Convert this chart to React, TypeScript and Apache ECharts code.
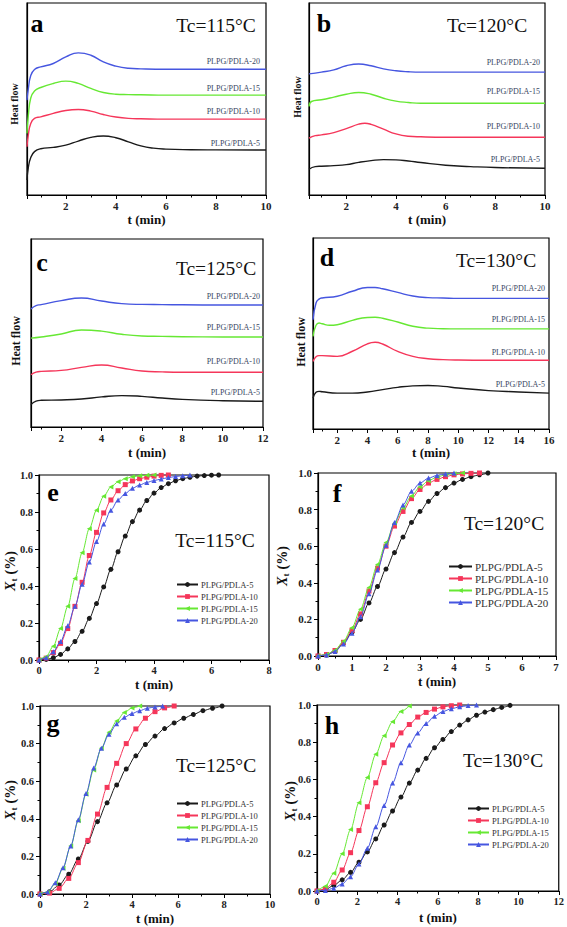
import React, { useEffect, useRef } from "react";
import * as echarts from "echarts";

const NAMES = ["PLPG/PDLA-5", "PLPG/PDLA-10", "PLPG/PDLA-15", "PLPG/PDLA-20"];
const COLORS = ["#1a1a1a", "#f5365a", "#66e833", "#4656e0"];
const SYMBOLS = ["circle", "rect", "triangle", "triangle"];
const ROTATES = [0, 0, 90, 0];
const FONT = "Liberation Serif";

// ---- Heat flow (arbitrary units, 0 = bottom of frame, 100 = top) ----
const aT5 = [0.45, 0.5, 0.6, 0.75, 1, 1.5, 2, 2.5, 3, 3.5, 4, 4.5, 5, 5.5, 6, 7, 8, 10];
const aV5 = [7.8, 14, 19.5, 22.6, 24.1, 24.8, 26.0, 28.1, 30.0, 30.7, 29.8, 27.7, 25.6, 24.4, 23.9, 23.6, 23.5, 23.4];
const aT10 = [0.45, 0.5, 0.6, 0.75, 1, 1.5, 2, 2.5, 3, 3.5, 4, 4.5, 5, 6, 8, 10];
const aV10 = [25.1, 31, 37.2, 39.9, 40.7, 42.5, 44.0, 44.5, 43.7, 41.9, 40.6, 39.9, 39.7, 39.5, 39.5, 39.5];
const aT15 = [0.45, 0.5, 0.6, 0.75, 1, 1.5, 2, 2.5, 3, 3.5, 4, 4.5, 5, 6, 8, 10];
const aV15 = [32.1, 41, 50.5, 54.2, 56.0, 58.1, 59.3, 58.1, 55.5, 53.4, 52.5, 52.3, 52.2, 52.0, 52.0, 52.0];
const aT20 = [0.45, 0.5, 0.6, 0.75, 1, 1.5, 2, 2.5, 3, 3.5, 4, 4.5, 5, 6, 8, 10];
const aV20 = [49.4, 55, 62.2, 65.4, 66.7, 68.5, 71.9, 74.0, 72.8, 69.3, 67.1, 66.0, 65.7, 65.5, 65.5, 65.5];

const bT5 = [0.5, 0.75, 1, 1.5, 2, 2.5, 3, 3.5, 4, 4.5, 5, 6, 7, 8, 10];
const bV5 = [13.4, 14.8, 15.0, 15.3, 15.8, 17.0, 17.9, 18.4, 18.3, 17.7, 16.9, 15.5, 14.8, 14.3, 13.9];
const bT10 = [0.5, 0.75, 1, 1.5, 2, 2.5, 2.75, 3, 3.5, 4, 4.5, 5, 6, 8, 10];
const bV10 = [29.6, 30.9, 31.3, 32.5, 34.6, 36.9, 37.4, 36.8, 34.3, 31.8, 30.6, 30.3, 30.1, 30.1, 30.1];
const bT15 = [0.5, 0.6, 1, 1.5, 2, 2.5, 3, 3.5, 4, 4.5, 5, 6, 8, 10];
const bV15 = [46.1, 48.7, 49.6, 51.0, 52.5, 53.4, 52.5, 50.4, 48.9, 48.2, 47.8, 47.8, 47.8, 47.8];
const bT20 = [0.5, 1, 1.5, 2, 2.5, 3, 3.5, 4, 4.5, 5, 6, 8, 10];
const bV20 = [63.1, 64.0, 65.2, 67.3, 68.2, 67.3, 65.7, 64.7, 64.2, 64.0, 64.0, 64.0, 64.0];

const cT5 = [0.5, 0.75, 1, 2, 3, 4, 5, 6, 7, 8, 10, 12];
const cV5 = [11.9, 13.8, 14.2, 14.4, 14.9, 16.0, 16.7, 16.3, 15.4, 14.7, 14.0, 13.7];
const cT10 = [0.5, 0.75, 1, 2, 3, 4, 5, 6, 7, 8, 10, 12];
const cV10 = [27.8, 29.2, 29.6, 30.1, 31.7, 33.0, 31.4, 29.8, 29.3, 29.1, 29.1, 29.1];
const cT15 = [0.5, 1, 2, 3, 4, 5, 6, 7, 8, 10, 12];
const cV15 = [47.3, 47.9, 49.5, 51.6, 51.0, 49.3, 48.4, 48.2, 48.0, 47.9, 47.9];
const cT20 = [0.5, 0.75, 1, 2, 3, 4, 5, 6, 7, 8, 10, 12];
const cV20 = [62.8, 64.6, 65.1, 67.2, 68.6, 67.0, 65.6, 65.2, 65.1, 65.0, 64.9, 64.9];

const dT5 = [0.4, 0.6, 0.8, 1, 2, 3, 4, 5, 6, 7, 8, 9, 10, 12, 14, 16];
const dV5 = [16.2, 19.2, 19.7, 19.5, 18.8, 18.8, 19.4, 20.6, 21.8, 22.6, 22.8, 22.3, 21.5, 20.1, 19.4, 18.8];
const dT10 = [0.4, 0.6, 0.8, 1, 2, 3, 4, 4.5, 5, 6, 7, 8, 9, 10, 12, 16];
const dV10 = [35.4, 37.8, 38.4, 38.4, 38.0, 40.7, 44.6, 45.4, 44.5, 40.6, 38.0, 36.8, 36.3, 36.1, 36.0, 36.0];
const dT15 = [0.4, 0.6, 0.8, 1, 1.5, 2, 3, 4, 4.5, 5, 6, 7, 8, 9, 10, 16];
const dV15 = [48.5, 54.3, 55.5, 55.1, 54.3, 54.6, 56.9, 58.4, 58.5, 58.0, 56.0, 53.8, 52.8, 52.5, 52.4, 52.4];
const dT20 = [0.4, 0.6, 0.8, 1, 2, 3, 4, 4.5, 5, 6, 7, 8, 9, 10, 16];
const dV20 = [57.2, 66.0, 68.0, 68.6, 69.5, 72.1, 74.1, 74.1, 73.4, 71.5, 69.6, 68.8, 68.6, 68.4, 68.4];

// ---- Relative crystallinity Xt ----
const eT5 = [0, 0.25, 0.5, 0.75, 1, 1.25, 1.5, 1.75, 2, 2.25, 2.5, 2.75, 3, 3.25, 3.5, 3.75, 4, 4.25, 4.5, 4.75, 5, 5.25, 5.5, 5.75, 6, 6.25];
const eX5 = [0, 0.003, 0.012, 0.03, 0.06, 0.1, 0.155, 0.225, 0.305, 0.395, 0.49, 0.585, 0.67, 0.748, 0.81, 0.862, 0.902, 0.932, 0.953, 0.969, 0.98, 0.988, 0.994, 0.997, 0.999, 1.0];
const eT10 = [0, 0.25, 0.5, 0.75, 1, 1.25, 1.5, 1.75, 2, 2.25, 2.5, 2.75, 3, 3.25, 3.5, 3.75, 4, 4.25, 4.5];
const eX10 = [0, 0.01, 0.04, 0.09, 0.17, 0.29, 0.42, 0.565, 0.69, 0.795, 0.865, 0.915, 0.948, 0.968, 0.98, 0.988, 0.994, 0.998, 1.0];
const eT15 = [0, 0.25, 0.5, 0.75, 1, 1.25, 1.5, 1.75, 2, 2.25, 2.5, 2.75, 3, 3.25, 3.5, 3.75, 4];
const eX15 = [0, 0.018, 0.075, 0.17, 0.29, 0.44, 0.58, 0.71, 0.81, 0.885, 0.935, 0.963, 0.98, 0.99, 0.996, 0.998, 1.0];
const eT20 = [0, 0.25, 0.5, 0.75, 1, 1.25, 1.5, 1.75, 2, 2.25, 2.5, 2.75, 3, 3.25, 3.5, 3.75, 4, 4.25, 4.5, 4.75, 5, 5.25];
const eX20 = [0, 0.012, 0.045, 0.1, 0.185, 0.29, 0.41, 0.53, 0.64, 0.735, 0.81, 0.865, 0.9, 0.928, 0.946, 0.96, 0.97, 0.978, 0.986, 0.992, 0.996, 1.0];

const fT5 = [0, 0.25, 0.5, 0.75, 1, 1.25, 1.5, 1.75, 2, 2.25, 2.5, 2.75, 3, 3.25, 3.5, 3.75, 4, 4.25, 4.5, 4.75, 5];
const fX5 = [0, 0.005, 0.025, 0.07, 0.13, 0.2, 0.29, 0.38, 0.475, 0.565, 0.65, 0.73, 0.79, 0.845, 0.888, 0.92, 0.945, 0.965, 0.98, 0.99, 1.0];
const fT10 = [0, 0.25, 0.5, 0.75, 1, 1.25, 1.5, 1.75, 2, 2.25, 2.5, 2.75, 3, 3.25, 3.5, 3.75, 4, 4.25, 4.5, 4.75];
const fX10 = [0, 0.008, 0.03, 0.075, 0.14, 0.23, 0.355, 0.48, 0.6, 0.71, 0.79, 0.86, 0.91, 0.945, 0.965, 0.98, 0.99, 0.995, 0.998, 1.0];
const fT15 = [0, 0.25, 0.5, 0.75, 1, 1.25, 1.5, 1.75, 2, 2.25, 2.5, 2.75, 3, 3.25, 3.5, 3.75, 4, 4.25];
const fX15 = [0, 0.008, 0.032, 0.08, 0.155, 0.255, 0.375, 0.5, 0.62, 0.725, 0.81, 0.875, 0.925, 0.958, 0.978, 0.99, 0.996, 1.0];
const fT20 = [0, 0.25, 0.5, 0.75, 1, 1.25, 1.5, 1.75, 2, 2.25, 2.5, 2.75, 3, 3.25, 3.5, 3.75, 4];
const fX20 = [0, 0.005, 0.025, 0.065, 0.125, 0.215, 0.34, 0.47, 0.605, 0.73, 0.825, 0.9, 0.945, 0.972, 0.987, 0.995, 1.0];

const gT5 = [0, 0.417, 0.833, 1.25, 1.667, 2.083, 2.5, 2.917, 3.333, 3.75, 4.167, 4.583, 5, 5.417, 5.833, 6.25, 6.667, 7.083, 7.5, 7.917];
const gX5 = [0, 0.012, 0.048, 0.105, 0.186, 0.28, 0.385, 0.485, 0.58, 0.665, 0.735, 0.795, 0.84, 0.88, 0.91, 0.935, 0.955, 0.975, 0.988, 1.0];
const gT10 = [0, 0.417, 0.833, 1.25, 1.667, 2.083, 2.5, 2.917, 3.333, 3.75, 4.167, 4.583, 5, 5.417, 5.833];
const gX10 = [0, 0.005, 0.03, 0.083, 0.167, 0.285, 0.425, 0.567, 0.695, 0.8, 0.878, 0.935, 0.97, 0.99, 1.0];
const gT15 = [0, 0.333, 0.667, 1, 1.333, 1.667, 2, 2.333, 2.667, 3, 3.333, 3.667, 4, 4.333];
const gX15 = [0, 0.01, 0.055, 0.137, 0.255, 0.39, 0.53, 0.66, 0.775, 0.86, 0.92, 0.965, 0.99, 1.0];
const gT20 = [0, 0.333, 0.667, 1, 1.333, 1.667, 2, 2.333, 2.667, 3, 3.333, 3.667, 4, 4.333, 4.667, 5, 5.333];
const gX20 = [0, 0.01, 0.06, 0.14, 0.255, 0.395, 0.535, 0.67, 0.775, 0.85, 0.905, 0.94, 0.96, 0.975, 0.988, 0.995, 1.0];

const hT5 = [0, 0.417, 0.833, 1.25, 1.667, 2.083, 2.5, 2.917, 3.333, 3.75, 4.167, 4.583, 5, 5.417, 5.833, 6.25, 6.667, 7.083, 7.5, 7.917, 8.333, 8.75, 9.167, 9.583];
const hX5 = [0, 0.008, 0.03, 0.06, 0.1, 0.155, 0.21, 0.28, 0.355, 0.43, 0.505, 0.58, 0.65, 0.713, 0.77, 0.815, 0.857, 0.892, 0.92, 0.945, 0.962, 0.975, 0.987, 0.998];
const hT10 = [0, 0.417, 0.833, 1.25, 1.667, 2.083, 2.5, 2.917, 3.333, 3.75, 4.167, 4.583, 5, 5.417, 5.833, 6.25, 6.667, 7.083];
const hX10 = [0, 0.012, 0.047, 0.113, 0.206, 0.325, 0.453, 0.582, 0.69, 0.785, 0.85, 0.895, 0.935, 0.96, 0.978, 0.99, 0.996, 1.0];
const hT15 = [0, 0.417, 0.833, 1.25, 1.667, 2.083, 2.5, 2.917, 3.333, 3.75, 4.167, 4.583];
const hX15 = [0, 0.025, 0.095, 0.2, 0.33, 0.475, 0.61, 0.735, 0.835, 0.91, 0.965, 0.995];
const hT20 = [0, 0.417, 0.833, 1.25, 1.667, 2.083, 2.5, 2.917, 3.333, 3.75, 4.167, 4.583, 5, 5.417, 5.833, 6.25, 6.667, 7.083, 7.5, 7.917];
const hX20 = [0, 0.003, 0.015, 0.038, 0.077, 0.145, 0.23, 0.345, 0.46, 0.58, 0.69, 0.785, 0.85, 0.9, 0.94, 0.965, 0.98, 0.99, 0.997, 1.0];

const TC_LABELS = ["Tc=115°C", "Tc=120°C", "Tc=125°C", "Tc=130°C", "Tc=115°C", "Tc=120°C", "Tc=125°C", "Tc=130°C"];
const LETTERS = ["a", "b", "c", "d", "e", "f", "g", "h"];

// ---- layout (pixels) ----
const GRIDS = [
  { l: 27, t: 3, w: 239, h: 192 },
  { l: 309, t: 3, w: 236, h: 192 },
  { l: 31, t: 239, w: 232, h: 188 },
  { l: 313, t: 238, w: 236, h: 191 },
  { l: 39, t: 475, w: 230, h: 185 },
  { l: 318, t: 473, w: 238, h: 183 },
  { l: 40, t: 706, w: 230, h: 188 },
  { l: 317, t: 705, w: 243, h: 186 },
];
const X_AXES = [
  { min: 0.45, max: 10, split: 5 },
  { min: 0.5, max: 10, split: 5 },
  { min: 0.5, max: 12, split: 6 },
  { min: 0.4, max: 16, split: 8 },
  { min: 0, max: 8, interval: 2 },
  { min: 0, max: 7, interval: 1 },
  { min: 0, max: 10, interval: 2 },
  { min: 0, max: 12, interval: 2 },
];
const XNAME_GAP = [18, 18, 19, 16, 18, 19, 18, 20];
const HF_NAME = [
  { x: 14, y: 104, size: 10 },
  { x: 297, y: 97, size: 10 },
  { x: 16, y: 341, size: 12 },
  { x: 301, y: 342, size: 12 },
];
const XT_NAME = [
  { x: 10, y: 572 },
  { x: 282, y: 567 },
  { x: 10, y: 801 },
  { x: 290, y: 802 },
];
const LETTER_POS = [[37, 23], [324, 23], [42, 262], [327, 257], [53, 492], [337, 493], [53, 723], [332, 725]];
const TC_POS = [[216, 25], [487, 25], [216, 268], [496, 260], [215, 540], [504, 523], [216, 765], [503, 760]];
const HF_LABEL_X = [260, 540, 260, 545];
const HF_LABEL_Y = [
  [143, 111, 88, 61],
  [159, 126, 91, 62],
  [392, 361, 327, 296],
  [384, 352, 319, 288],
];
const LEGENDS = [
  { left: 176, top: 580, font: 8.5, gap: 3, w: 21 },
  { left: 448, top: 561, font: 11, gap: 1, w: 23 },
  { left: 176, top: 799, font: 8.5, gap: 3, w: 21 },
  { left: 467, top: 804, font: 8.5, gap: 3, w: 21 },
];

const HF_DATA = [
  [[aT5, aV5], [aT10, aV10], [aT15, aV15], [aT20, aV20]],
  [[bT5, bV5], [bT10, bV10], [bT15, bV15], [bT20, bV20]],
  [[cT5, cV5], [cT10, cV10], [cT15, cV15], [cT20, cV20]],
  [[dT5, dV5], [dT10, dV10], [dT15, dV15], [dT20, dV20]],
];
const XT_DATA = [
  [[eT5, eX5], [eT10, eX10], [eT15, eX15], [eT20, eX20]],
  [[fT5, fX5], [fT10, fX10], [fT15, fX15], [fT20, fX20]],
  [[gT5, gX5], [gT10, gX10], [gT15, gX15], [gT20, gX20]],
  [[hT5, hX5], [hT10, hX10], [hT15, hX15], [hT20, hX20]],
];

const zip = (a: number[], b: number[]) => a.map((v, i) => [v, b[i]]);

function txt(text: string, x: number, y: number, size: number, opts: any = {}) {
  const align = opts.align || "center";
  const valign = opts.valign || "middle";
  return {
    type: "text",
    x,
    y,
    silent: true,
    style: {
      text,
      fill: opts.fill || "#111",
      fontFamily: FONT,
      fontSize: size,
      fontWeight: opts.bold ? "bold" : "normal",
      fontStyle: opts.italic ? "italic" : "normal",
      align,
      verticalAlign: valign,
      textAlign: align,
      textVerticalAlign: valign,
    },
  };
}

function buildOption() {
  const grid = GRIDS.map((g) => ({
    left: g.l,
    top: g.t,
    width: g.w,
    height: g.h,
    show: true,
    borderColor: "#000",
    borderWidth: 1.2,
    backgroundColor: "transparent",
  }));

  const xAxis = X_AXES.map((a, i) => ({
    type: "value",
    gridIndex: i,
    min: a.min,
    max: a.max,
    ...(a.interval ? { interval: a.interval } : { splitNumber: a.split }),
    axisLine: { show: true, onZero: false, lineStyle: { color: "#000", width: 1.2 } },
    axisTick: { show: true, length: 4, lineStyle: { color: "#000", width: 1 } },
    minorTick: { show: true, splitNumber: 2, length: 2.5, lineStyle: { color: "#000", width: 1 } },
    splitLine: { show: false },
    axisLabel: {
      showMinLabel: i >= 4,
      fontFamily: FONT,
      fontSize: i <= 5 && i !== 4 ? 11 : 10.5,
      fontWeight: "bold",
      color: "#222",
      margin: 5,
    },
    name: "t (min)",
    nameLocation: "middle",
    nameGap: XNAME_GAP[i],
    nameTextStyle: { fontFamily: FONT, fontSize: 13, fontWeight: "bold", color: "#111" },
  }));

  const yAxis: any[] = [];
  for (let i = 0; i < 8; i++) {
    if (i < 4) {
      yAxis.push({
        type: "value",
        gridIndex: i,
        min: 0,
        max: 100,
        axisLine: { show: true, onZero: false, lineStyle: { color: "#000", width: 1.2 } },
        axisTick: { show: false },
        axisLabel: { show: false },
        splitLine: { show: false },
      });
    } else {
      const big = i === 5;
      yAxis.push({
        type: "value",
        gridIndex: i,
        min: 0,
        max: 1,
        interval: 0.2,
        axisLine: { show: true, onZero: false, lineStyle: { color: "#000", width: 1.2 } },
        axisTick: { show: true, length: 4, lineStyle: { color: "#000", width: 1 } },
        minorTick: { show: true, splitNumber: 2, length: 2.5, lineStyle: { color: "#000", width: 1 } },
        splitLine: { show: false },
        axisLabel: {
          fontFamily: FONT,
          fontSize: big ? 11 : 10.5,
          fontWeight: "bold",
          color: "#222",
          margin: 6,
          formatter: (v: number) => v.toFixed(1),
        },
      });
    }
  }

  const series: any[] = [];
  XT_DATA.forEach((panel, p) => {
    panel.forEach(([t, x], k) => {
      series.push({
        type: "line",
        name: NAMES[k],
        xAxisIndex: p + 4,
        yAxisIndex: p + 4,
        data: zip(t, x),
        smooth: 0.3,
        smoothMonotone: "x",
        symbol: SYMBOLS[k],
        symbolRotate: ROTATES[k],
        symbolSize: 5,
        showSymbol: true,
        color: COLORS[k],
        itemStyle: { color: COLORS[k] },
        lineStyle: { color: COLORS[k], width: 1 },
        z: 2 + k,
      });
    });
  });
  HF_DATA.forEach((panel, p) => {
    panel.forEach(([t, v], k) => {
      series.push({
        type: "line",
        name: LETTERS[p] + " " + NAMES[k],
        xAxisIndex: p,
        yAxisIndex: p,
        data: zip(t, v),
        smooth: 0.5,
        showSymbol: false,
        symbol: "none",
        color: COLORS[k],
        lineStyle: { color: COLORS[k], width: 1.4 },
      });
    });
  });

  const legend = LEGENDS.map((L) => ({
    show: true,
    orient: "vertical",
    left: L.left,
    top: L.top,
    padding: 0,
    itemWidth: L.w,
    itemHeight: 6,
    itemGap: L.gap,
    selectedMode: false,
    data: NAMES,
    textStyle: { fontFamily: FONT, fontSize: L.font, color: "#333", padding: [0, 0, 0, -2] },
  }));

  const graphic: any[] = [];
  LETTERS.forEach((l, i) => {
    graphic.push(txt(l, LETTER_POS[i][0], LETTER_POS[i][1], 26, { bold: true, fill: "#000" }));
    graphic.push(txt(TC_LABELS[i], TC_POS[i][0], TC_POS[i][1], 19.5));
  });
  HF_LABEL_Y.forEach((ys, p) => {
    ys.forEach((y, k) => {
      graphic.push(txt(NAMES[k], HF_LABEL_X[p], y, 8, { align: "right", fill: "#3a4762" }));
    });
  });
  HF_NAME.forEach((n) => {
    graphic.push({
      type: "group",
      x: n.x,
      y: n.y,
      rotation: Math.PI / 2,
      children: [txt("Heat flow", 0, 0, n.size, { bold: true })],
    });
  });
  XT_NAME.forEach((n) => {
    graphic.push({
      type: "group",
      x: n.x,
      y: n.y,
      rotation: Math.PI / 2,
      children: [
        txt("X", -19, 0, 14, { bold: true, italic: true, align: "left" }),
        txt("t", -9.5, 4, 9, { bold: true, align: "left" }),
        txt("(%)", -2.5, 0, 14, { bold: true, align: "left" }),
      ],
    });
  });

  return {
    animation: false,
    backgroundColor: "#fff",
    grid,
    xAxis,
    yAxis,
    legend,
    series,
    graphic,
  };
}

export default function App() {
  const ref = useRef<HTMLDivElement>(null);
  useEffect(() => {
    if (!ref.current) return;
    const chart = echarts.init(ref.current, undefined, { renderer: "svg" });
    chart.setOption(buildOption() as any);
    return () => chart.dispose();
  }, []);
  return (
    <div
      ref={ref}
      style={{ position: "fixed", left: 0, top: 0, width: 567, height: 927, background: "#fff" }}
    />
  );
}
